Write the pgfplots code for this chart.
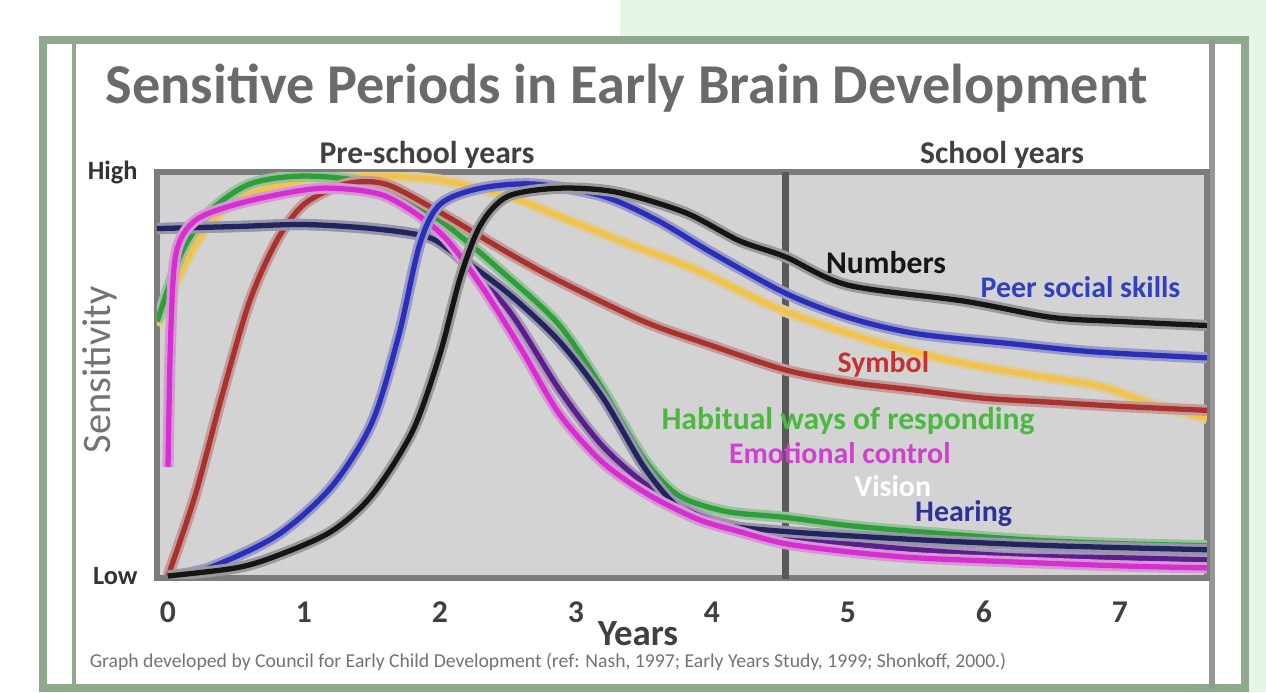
\documentclass[border=0pt]{standalone}
\usepackage{fontspec}
\setmainfont[Numbers=Lining]{Carlito}
\usepackage{pgfplots}
\pgfplotsset{compat=1.18}
\definecolor{plotgray}{HTML}{D3D3D3}
\definecolor{framegray}{HTML}{7C7C7C}
\definecolor{framegreen}{HTML}{8FA98F}
\definecolor{lightgreen}{HTML}{E6F6E6}
\definecolor{titlegray}{HTML}{6A6A6A}
\definecolor{cyellow}{HTML}{F2C24A}
\definecolor{cgreen}{HTML}{2E9E3A}
\definecolor{cbrown}{HTML}{A8332E}
\definecolor{cnavy}{HTML}{23245E}
\definecolor{cpurple}{HTML}{5B1F8C}
\definecolor{cmagenta}{HTML}{D62ED0}
\definecolor{cblue}{HTML}{2B2FB8}
\definecolor{cblack}{HTML}{151515}
\definecolor{lgreen}{HTML}{4CB840}
\definecolor{lblue}{HTML}{3040C0}
\definecolor{lred}{HTML}{C83030}
\definecolor{lmag}{HTML}{D040D0}
\definecolor{lnavy}{HTML}{30309A}
\begin{document}
\begin{tikzpicture}[x=1cm,y=1cm]
\path[use as bounding box, fill=white] (0,0) rectangle (12.66,6.92);
\fill[lightgreen] (6.2,6.55) rectangle (12.66,6.92);
\fill[lightgreen] (12.45,0) rectangle (12.66,6.92);
\draw[framegreen, line width=2.2pt] (0.43,0.04) rectangle (12.45,6.52);
\draw[framegreen, line width=1.2pt] (0.74,0.04) -- (0.74,6.52);
\draw[framegray!80, line width=1.8pt] (12.12,0.04) -- (12.12,6.52);
\node[text=titlegray, font=\bfseries\fontsize{16}{18}\selectfont] at (6.27,6.04) {Sensitive Periods in Early Brain Development};
\node[text=black!75, font=\bfseries\fontsize{9}{10}\selectfont] at (4.27,5.37) {Pre-school years};
\node[text=black!75, font=\bfseries\fontsize{9}{10}\selectfont] at (10.02,5.37) {School years};
\node[text=black!55, rotate=90, font=\fontsize{11.5}{12}\selectfont] at (1.0,3.22) {Sensitivity};
\node[text=black!75, font=\bfseries\fontsize{10.5}{12}\selectfont] at (6.38,0.58) {Years};
\node[text=black!55, font=\fontsize{5.6}{6.5}\selectfont] at (5.48,0.30) {Graph developed by Council for Early Child Development (ref: Nash, 1997; Early Years Study, 1999; Shonkoff, 2000.)};
\begin{axis}[
  at={(1.57cm,1.14cm)}, anchor=south west,
  scale only axis, width=10.5cm, height=4.06cm,
  xmin=-0.081, xmax=7.64, ymin=-0.005, ymax=1.0,
  axis background/.style={fill=plotgray},
  axis line style={draw=framegray, line width=1.6pt},
  xtick={0,...,7}, ytick={0,1}, yticklabels={Low,High},
  major tick length=0pt,
  /pgf/number format/assume math mode=true,
  xticklabel style={font=\bfseries\fontsize{9}{10}\selectfont, text=black!75, yshift=-2pt, text height=7pt, text depth=1pt},
  yticklabel style={font=\bfseries\fontsize{7.5}{8}\selectfont, text=black!80, xshift=-2pt},
  every axis plot/.append style={smooth, tension=0.5, line width=1.5pt},
  clip=true,
]
\draw[black!65, line width=1.8pt] (axis cs:4.54,-0.01) -- (axis cs:4.54,1.0);
% Language (yellow)
\addplot[cyellow, preaction={draw, cyellow!40!plotgray, line width=3.2pt}] coordinates {(-0.08,0.62) (0.2,0.82) (0.5,0.93) (1.0,0.98) (1.5,0.99) (2.0,0.98) (2.5,0.94) (2.88,0.89) (3.4,0.82) (3.87,0.76) (4.5,0.66) (5.2,0.58) (5.8,0.53) (6.3,0.50) (6.85,0.47) (7.2,0.43) (7.64,0.39)};
% Habitual ways of responding (green)
\addplot[cgreen, preaction={draw, cgreen!35!plotgray, line width=3.2pt}] coordinates {(-0.08,0.63) (0.1,0.80) (0.3,0.90) (0.6,0.97) (1.0,0.99) (1.5,0.97) (2.0,0.88) (2.5,0.74) (2.88,0.62) (3.2,0.46) (3.5,0.29) (3.75,0.20) (4.1,0.16) (4.54,0.145) (5.0,0.125) (5.5,0.11) (6.3,0.09) (7.0,0.08) (7.64,0.075)};
% Symbol (brown)
\addplot[cbrown, preaction={draw, cbrown!35!plotgray, line width=3.2pt}] coordinates {(0,0) (0.2,0.2) (0.4,0.45) (0.6,0.68) (0.8,0.83) (1.0,0.92) (1.3,0.97) (1.6,0.97) (2.0,0.9) (2.5,0.8) (2.88,0.73) (3.5,0.63) (4.0,0.57) (4.54,0.51) (5.0,0.48) (5.5,0.46) (6.0,0.44) (6.5,0.43) (7.0,0.42) (7.64,0.41)};
% Hearing (purple)
\addplot[cpurple, preaction={draw, cpurple!35!plotgray, line width=3.2pt}] coordinates {(-0.08,0.86) (0.5,0.865) (1.0,0.87) (1.5,0.86) (1.9,0.84) (2.1,0.80) (2.5,0.66) (2.88,0.46) (3.2,0.32) (3.54,0.22) (3.9,0.15) (4.2,0.12) (4.54,0.095) (5.0,0.08) (5.5,0.065) (6.2,0.05) (7.0,0.045) (7.64,0.04)};
% Vision (navy)
\addplot[cnavy, preaction={draw, cnavy!35!plotgray, line width=3.2pt}] coordinates {(-0.08,0.86) (0.5,0.865) (1.0,0.87) (1.5,0.86) (1.9,0.84) (2.1,0.80) (2.5,0.70) (2.88,0.58) (3.2,0.44) (3.5,0.27) (3.75,0.17) (4.0,0.13) (4.54,0.11) (5.5,0.09) (6.5,0.075) (7.64,0.065)};
% Emotional control (magenta)
\addplot[cmagenta, preaction={draw, cmagenta!35!plotgray, line width=3.2pt}] coordinates {(0,0.27) (0.02,0.6) (0.06,0.80) (0.2,0.88) (0.5,0.92) (0.9,0.95) (1.2,0.96) (1.6,0.94) (2.0,0.85) (2.3,0.72) (2.6,0.56) (2.88,0.40) (3.2,0.28) (3.54,0.20) (3.9,0.14) (4.2,0.11) (4.54,0.08) (5.0,0.06) (5.5,0.045) (6.2,0.035) (7.0,0.025) (7.64,0.02)};
% Peer social skills (blue)
\addplot[cblue, preaction={draw, cblue!35!plotgray, line width=3.2pt}] coordinates {(0,0) (0.3,0.02) (0.8,0.1) (1.2,0.22) (1.5,0.38) (1.7,0.6) (1.85,0.82) (2.0,0.92) (2.3,0.96) (2.7,0.97) (3.2,0.94) (3.6,0.88) (4.0,0.80) (4.54,0.70) (5.0,0.64) (5.5,0.60) (6.2,0.575) (6.8,0.555) (7.64,0.54)};
% Numbers (black)
\addplot[cblack, preaction={draw, cblack!30!plotgray, line width=3.2pt}] coordinates {(0,0) (0.5,0.02) (0.8,0.05) (1.2,0.11) (1.5,0.2) (1.8,0.36) (2.0,0.55) (2.15,0.74) (2.3,0.87) (2.5,0.94) (2.88,0.96) (3.3,0.95) (3.8,0.90) (4.2,0.83) (4.54,0.79) (5.0,0.72) (5.86,0.68) (6.5,0.64) (7.0,0.63) (7.64,0.62)};
\node[text=cblack, font=\bfseries\fontsize{9}{10}\selectfont] at (axis cs:5.28,0.776) {Numbers};
\node[text=lblue, font=\bfseries\fontsize{8.5}{10}\selectfont] at (axis cs:6.71,0.714) {Peer social skills};
\node[text=lred, font=\bfseries\fontsize{8.5}{10}\selectfont] at (axis cs:5.26,0.525) {Symbol};
\node[text=lgreen, font=\bfseries\fontsize{9}{10}\selectfont] at (axis cs:5.0,0.384) {Habitual ways of responding};
\node[text=lmag, font=\bfseries\fontsize{8.5}{10}\selectfont] at (axis cs:4.94,0.303) {Emotional control};
\node[text=white, font=\bfseries\fontsize{8.5}{10}\selectfont] at (axis cs:5.33,0.222) {Vision};
\node[text=lnavy, font=\bfseries\fontsize{8.5}{10}\selectfont] at (axis cs:5.85,0.155) {Hearing};
\end{axis}
\end{tikzpicture}
\end{document}
